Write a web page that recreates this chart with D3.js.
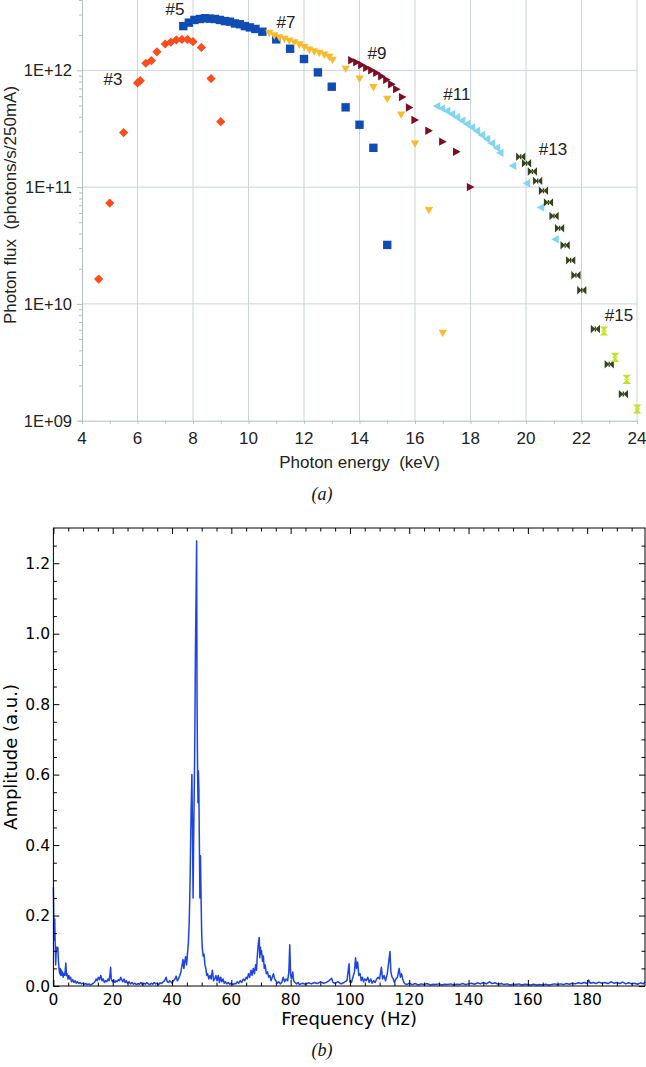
<!DOCTYPE html>
<html><head><meta charset="utf-8">
<script src="https://cdn.jsdelivr.net/npm/d3@7"></script>
<style>body{margin:0;background:#fff} svg{display:block}</style>
</head><body>
<svg id="c" width="646" height="1067"></svg>
<script>
// ---------- Data: panel (a) ----------
const s3Energy = [4.6, 5.0, 5.5, 6.0, 6.1, 6.3, 6.5, 6.7, 7.0, 7.2, 7.4, 7.6, 7.8, 8.0, 8.3, 8.65, 9.0];
const s3Flux = [1.63e10, 7.3e10, 2.93e11, 7.8e11, 8.15e11, 1.15e12, 1.21e12, 1.44e12, 1.68e12, 1.74e12, 1.82e12, 1.84e12, 1.84e12, 1.76e12, 1.57e12, 8.5e11, 3.63e11];
const s5Energy = [7.65, 7.85, 8.05, 8.25, 8.43, 8.61, 8.79, 8.97, 9.15, 9.33, 9.51, 9.69, 9.87, 10.05, 10.25, 10.5, 11.0, 11.5, 12.0, 12.5, 13.0, 13.5, 14.0, 14.5, 15.0];
const s5Flux = [2.39e12, 2.56e12, 2.70e12, 2.75e12, 2.79e12, 2.77e12, 2.75e12, 2.70e12, 2.64e12, 2.61e12, 2.52e12, 2.48e12, 2.39e12, 2.33e12, 2.26e12, 2.14e12, 1.84e12, 1.53e12, 1.25e12, 9.6e11, 7.24e11, 4.82e11, 3.42e11, 2.17e11, 3.2e10];
const s7Energy = [10.75, 10.93, 11.11, 11.29, 11.47, 11.65, 11.83, 12.01, 12.19, 12.37, 12.55, 12.73, 12.91, 13.03, 13.5, 14.0, 14.5, 15.0, 15.5, 16.0, 16.5, 17.0];
const s7Flux = [2.07e12, 1.97e12, 1.90e12, 1.84e12, 1.78e12, 1.72e12, 1.65e12, 1.57e12, 1.49e12, 1.44e12, 1.40e12, 1.35e12, 1.29e12, 1.22e12, 1.02e12, 8.4e11, 7.1e11, 5.65e11, 4.14e11, 2.34e11, 6.3e10, 5.6e9];
const s9Energy = [13.72, 13.9, 14.08, 14.26, 14.44, 14.62, 14.8, 14.98, 15.16, 15.34, 15.55, 15.8, 16.0, 16.5, 17.0, 17.5, 18.0];
const s9Flux = [1.22e12, 1.17e12, 1.11e12, 1.05e12, 1.0e12, 9.5e11, 8.9e11, 8.3e11, 7.6e11, 6.9e11, 5.9e11, 4.8e11, 3.75e11, 3.04e11, 2.45e11, 2.01e11, 1.0e11];
const s11Energy = [16.78, 16.96, 17.14, 17.32, 17.5, 17.68, 17.86, 18.04, 18.22, 18.4, 18.58, 18.76, 18.94, 19.06, 19.52, 20.02, 20.53, 21.05];
const s11Flux = [4.94e11, 4.72e11, 4.48e11, 4.23e11, 3.96e11, 3.71e11, 3.47e11, 3.25e11, 3.02e11, 2.79e11, 2.58e11, 2.37e11, 2.17e11, 1.97e11, 1.52e11, 1.08e11, 6.7e10, 3.57e10];
const s13Energy = [19.81, 20.02, 20.23, 20.42, 20.63, 20.81, 21.01, 21.21, 21.41, 21.61, 21.8, 22.01, 22.5, 23.0, 23.51];
const s13Flux = [1.82e11, 1.6e11, 1.36e11, 1.13e11, 9.3e10, 7.4e10, 5.66e10, 4.44e10, 3.18e10, 2.36e10, 1.76e10, 1.31e10, 6.1e9, 3.04e9, 1.69e9];
const s15Energy = [22.81, 23.21, 23.63, 24.01];
const s15Flux = [5.86e9, 3.49e9, 2.26e9, 1.26e9];
const harmonicLabels = ["#3", "#5", "#7", "#9", "#11", "#13", "#15"];
const labelEnergy = [5.12, 7.35, 11.35, 14.63, 17.51, 20.97, 23.35];
const labelFlux = [8.4e11, 3.35e12, 2.6e12, 1.4e12, 6.27e11, 2.12e11, 8.0e9];
const xTicksA = [4, 6, 8, 10, 12, 14, 16, 18, 20, 22, 24];
const yTicksA = [1e9, 1e10, 1e11, 1e12];
const yTickLabelsA = ["1E+09", "1E+10", "1E+11", "1E+12"];

// ---------- Data: panel (b) ----------
const spectrum = [
[0,0.28],[0.15,0.19],[0.3,0.13],[0.45,0.19],[0.6,0.12],[0.75,0.06],[0.9,0.09],[1.05,0.11],[1.3,0.10],[1.5,0.11],[1.7,0.07],[1.9,0.05],
[2.1,0.035],[2.3,0.05],[2.5,0.03],[2.7,0.045],[2.9,0.03],[3.1,0.04],[3.3,0.025],[3.5,0.035],[3.8,0.03],[4.0,0.045],[4.2,0.065],[4.4,0.03],
[4.6,0.035],[4.9,0.02],[5.2,0.03],[5.5,0.02],[5.8,0.025],[6.1,0.012],[6.5,0.018],[6.9,0.01],[7.3,0.015],[7.7,0.008],[8.1,0.012],[8.6,0.007],
[9.0,0.01],[9.5,0.006],[10.0,0.008],[10.5,0.005],[11.0,0.007],[11.5,0.004],[12.0,0.006],[12.5,0.003],[13.0,0.005],[13.5,0.008],[14.0,0.012],
[14.4,0.02],[14.8,0.015],[15.2,0.025],[15.6,0.018],[16.0,0.03],[16.4,0.015],[16.8,0.02],[17.2,0.01],[17.6,0.015],[18.0,0.012],[18.4,0.02],
[18.8,0.015],[19.1,0.035],[19.3,0.053],[19.5,0.02],[19.9,0.012],[20.3,0.018],[20.7,0.01],[21.1,0.015],[21.5,0.012],[21.9,0.018],[22.3,0.015],
[22.7,0.025],[23.0,0.018],[23.4,0.012],[23.8,0.02],[24.2,0.01],[24.6,0.015],[25.0,0.008],[25.5,0.012],[26.0,0.006],[26.5,0.01],[27.0,0.005],
[27.5,0.008],[28.0,0.004],[28.5,0.007],[29.0,0.005],[29.5,0.01],[30.0,0.004],[30.5,0.008],[31.0,0.005],[31.5,0.01],[32.0,0.006],[32.5,0.004],
[33.0,0.008],[33.5,0.005],[34.0,0.01],[34.5,0.006],[35.0,0.008],[35.5,0.004],[36.0,0.009],[36.5,0.007],[37.0,0.012],[37.5,0.015],[38.0,0.025],
[38.4,0.012],[38.8,0.01],[39.2,0.015],[39.6,0.012],[40.0,0.008],[40.5,0.015],[41.0,0.02],[41.4,0.028],[41.8,0.015],[42.2,0.02],[42.6,0.03],
[43.0,0.04],[43.4,0.06],[43.7,0.075],[44.0,0.05],[44.3,0.07],[44.6,0.083],[44.9,0.06],[45.2,0.09],[45.5,0.12],[45.8,0.18],[46.1,0.3],
[46.4,0.48],[46.7,0.6],[46.9,0.45],[47.1,0.25],[47.3,0.42],[47.5,0.55],[47.7,0.72],[47.9,0.95],[48.1,1.1],[48.3,1.263],[48.45,0.8],
[48.6,0.63],[48.75,0.52],[48.9,0.61],[49.05,0.56],[49.25,0.38],[49.4,0.25],[49.6,0.37],[49.8,0.25],[50.0,0.15],[50.2,0.11],[50.5,0.085],
[50.8,0.09],[51.1,0.06],[51.4,0.05],[51.7,0.03],[52.0,0.035],[52.4,0.02],[52.8,0.03],[53.2,0.02],[53.6,0.045],[54.0,0.015],[54.4,0.02],
[54.8,0.03],[55.2,0.015],[55.6,0.03],[56.0,0.01],[56.4,0.025],[56.8,0.012],[57.2,0.02],[57.6,0.008],[58.0,0.012],[58.5,0.006],[59.0,0.01],
[59.5,0.005],[60.0,0.008],[60.5,0.004],[61.0,0.007],[61.5,0.006],[62.0,0.012],[62.5,0.008],[63.0,0.015],[63.5,0.01],[64.0,0.02],[64.5,0.015],
[65.0,0.025],[65.4,0.02],[65.8,0.035],[66.2,0.025],[66.6,0.045],[67.0,0.03],[67.4,0.05],[67.8,0.035],[68.2,0.06],[68.5,0.045],[68.8,0.09],
[69.1,0.12],[69.4,0.138],[69.6,0.08],[69.8,0.11],[70.0,0.09],[70.2,0.1],[70.5,0.07],[70.8,0.085],[71.1,0.05],[71.4,0.06],[71.8,0.035],
[72.2,0.04],[72.6,0.025],[73.0,0.03],[73.4,0.015],[73.8,0.025],[74.2,0.035],[74.6,0.02],[75.0,0.015],[75.5,0.008],[76.0,0.012],[76.5,0.006],
[77.0,0.01],[77.5,0.025],[78.0,0.012],[78.5,0.02],[79.0,0.015],[79.4,0.04],[79.7,0.117],[80.0,0.03],[80.3,0.02],[80.7,0.04],[81.0,0.015],
[81.5,0.01],[82.0,0.006],[82.5,0.01],[83.0,0.004],[84.0,0.008],[85.0,0.005],[86.0,0.009],[87.0,0.006],[88.0,0.01],[89.0,0.007],[90.0,0.012],
[91.0,0.008],[92.0,0.01],[93.0,0.015],[93.8,0.022],[94.3,0.01],[95.0,0.008],[96.0,0.012],[97.0,0.006],[98.0,0.01],[99.0,0.015],[99.7,0.063],
[100.0,0.012],[100.5,0.01],[101.0,0.025],[101.5,0.04],[101.9,0.08],[102.2,0.05],[102.6,0.068],[103.0,0.03],[103.4,0.035],[103.8,0.015],
[104.2,0.025],[104.6,0.012],[105.0,0.02],[105.5,0.015],[106.0,0.025],[106.5,0.01],[107.0,0.02],[107.5,0.008],[108.0,0.015],[108.5,0.01],
[109.0,0.02],[109.5,0.025],[110.0,0.02],[110.6,0.053],[111.0,0.02],[111.5,0.03],[112.0,0.015],[112.6,0.035],[113.1,0.07],[113.5,0.098],
[113.8,0.04],[114.2,0.025],[114.6,0.02],[115.0,0.01],[115.5,0.02],[116.0,0.025],[116.6,0.05],[117.0,0.025],[117.4,0.035],[117.8,0.02],
[118.2,0.01],[118.6,0.006],[119.5,0.005],[120,0.008],[121,0.004],[122,0.007],[123,0.003],[124,0.006],[125,0.004],[126,0.007],[127,0.003],
[128,0.005],[129,0.004],[130,0.006],[131,0.003],[132,0.005],[133,0.004],[134,0.006],[135,0.003],[136,0.005],[137,0.004],[138,0.007],
[139,0.004],[140,0.006],[141,0.008],[142,0.005],[143,0.009],[144,0.006],[145,0.01],[146,0.006],[147,0.012],[148,0.007],[149,0.009],
[150,0.005],[151,0.007],[152,0.004],[153,0.006],[154,0.003],[155,0.005],[156,0.004],[157,0.006],[158,0.003],[159,0.005],[160,0.004],
[161,0.003],[162,0.005],[163,0.003],[164,0.004],[165,0.003],[166,0.005],[167,0.003],[168,0.004],[169,0.006],[170,0.004],[171,0.006],
[172,0.004],[173,0.007],[174,0.005],[175,0.008],[176,0.006],[177,0.009],[178,0.007],[179,0.01],[180,0.007],[180.5,0.017],[181,0.008],
[182,0.01],[183,0.007],[184,0.011],[185,0.008],[186,0.01],[187,0.007],[188,0.012],[189,0.008],[190,0.01],[191,0.007],[192,0.011],
[193,0.006],[194,0.009],[195,0.006],[196,0.008],[197,0.005],[198,0.009],[199,0.006],[199.5,0.012]
];
const xTicksB = [0, 20, 40, 60, 80, 100, 120, 140, 160, 180];
const yTicksB = [0.0, 0.2, 0.4, 0.6, 0.8, 1.0, 1.2];

// ---------- Panel (a) ----------
const svg = d3.select("#c");
const fontA = "'Liberation Sans', Arial, sans-serif";
const xA = d3.scaleLinear().domain([4, 24]).range([82, 637]);
const yA = d3.scaleLog().domain([1e9, 4e12]).range([420.7, 0]);
const gA = svg.append("g");
const gridCol = "#c9d3d9";

// grid
gA.selectAll("line.vg").data(xTicksA.slice(1)).enter().append("line")
  .attr("x1", d => xA(d)).attr("x2", d => xA(d)).attr("y1", 0).attr("y2", yA(1e9))
  .attr("stroke", gridCol).attr("stroke-width", 1);
gA.selectAll("line.hg").data(yTicksA.slice(1)).enter().append("line")
  .attr("x1", xA(4)).attr("x2", xA(24)).attr("y1", d => yA(d)).attr("y2", d => yA(d))
  .attr("stroke", gridCol).attr("stroke-width", 1);

// axes
const axisCol = "#b3bcc2";
const yAxisA = d3.axisLeft(yA).tickValues(yA.ticks()).tickFormat("").tickSize(3);
const gy = gA.append("g").attr("transform", `translate(${xA(4)},0)`).call(yAxisA);
gy.selectAll("path,line").attr("stroke", axisCol);
gy.selectAll(".tick line").attr("x2", d => yTicksA.includes(d) ? -5 : -3);
gA.append("g").selectAll("text").data(yTicksA).enter().append("text")
  .attr("x", 72).attr("y", d => yA(d)).attr("dy", "0.36em").attr("text-anchor", "end")
  .attr("font-family", fontA).attr("font-size", 16.5).attr("fill", "#222")
  .text((d, i) => yTickLabelsA[i]);

const minorX = d3.range(4, 24.01, 1);
const xAxisA = d3.axisBottom(xA).tickValues(minorX).tickFormat("").tickSize(3);
const gx = gA.append("g").attr("transform", `translate(0,${yA(1e9)})`).call(xAxisA);
gx.selectAll("path,line").attr("stroke", axisCol);
gA.append("g").selectAll("text").data(xTicksA).enter().append("text")
  .attr("x", d => xA(d)).attr("y", 444).attr("text-anchor", "middle")
  .attr("font-family", fontA).attr("font-size", 17).attr("fill", "#222")
  .text(d => d);

gA.append("text").attr("x", (xA(4) + xA(24)) / 2).attr("y", 468).attr("text-anchor", "middle")
  .attr("font-family", fontA).attr("font-size", 17).attr("fill", "#222")
  .style("white-space", "pre")
  .text("Photon energy  (keV)");
gA.append("text").attr("transform", "translate(16,205) rotate(-90)").attr("text-anchor", "middle")
  .attr("font-family", fontA).attr("font-size", 17).attr("fill", "#222")
  .style("white-space", "pre")
  .text("Photon flux  (photons/s/250mA)");

// markers
const shapes = {
  diamond: "M0,-4.6L4.6,0L0,4.6L-4.6,0Z",
  square: "M-4.2,-4.2H4.2V4.2H-4.2Z",
  down: "M-4.2,-3.6L4.2,-3.6L0,3.8Z",
  right: "M-3.6,-4.2L4,0L-3.6,4.2Z",
  left: "M3.6,-4.2L-4,0L3.6,4.2Z",
  bowtie: "M-4.6,-4.2L0,0L-4.6,4.2Z M4.6,-4.2L0,0L4.6,4.2Z M-0.7,-2.5H0.7V2.5H-0.7Z",
  hourglass: "M-4.2,-4.6L4.2,-4.6L0,0Z M-4.2,4.6L4.2,4.6L0,0Z M-2.5,-0.7H2.5V0.7H-2.5Z"
};
const seriesList = [
  {e: s3Energy, f: s3Flux, shape: "diamond", color: "#fb4d1d"},
  {e: s5Energy, f: s5Flux, shape: "square", color: "#0f4db3"},
  {e: s7Energy, f: s7Flux, shape: "down", color: "#fbbb2c"},
  {e: s9Energy, f: s9Flux, shape: "right", color: "#7c0f26"},
  {e: s11Energy, f: s11Flux, shape: "left", color: "#80d5f3"},
  {e: s13Energy, f: s13Flux, shape: "bowtie", color: "#34421b"},
  {e: s15Energy, f: s15Flux, shape: "hourglass", color: "#c4e02e"}
];
seriesList.forEach(s => {
  gA.append("g").selectAll("path").data(s.e.map((e, i) => [e, s.f[i]])).enter().append("path")
    .attr("d", shapes[s.shape]).attr("fill", s.color)
    .attr("transform", d => `translate(${xA(d[0])},${yA(d[1])})`);
});
gA.append("g").selectAll("text").data(harmonicLabels).enter().append("text")
  .attr("x", (d, i) => xA(labelEnergy[i])).attr("y", (d, i) => yA(labelFlux[i])).attr("dy", "0.36em")
  .attr("text-anchor", "middle").attr("font-family", fontA).attr("font-size", 17).attr("fill", "#222")
  .text(d => d);

svg.append("text").attr("x", 322).attr("y", 500).attr("text-anchor", "middle")
  .attr("font-family", "'Liberation Serif', 'Times New Roman', serif").attr("font-style", "italic")
  .attr("font-size", 18).attr("fill", "#111").text("(a)");

// ---------- Panel (b) ----------
const fontB = "'DejaVu Sans', sans-serif";
const L = 53.4, R = 645, T = 528, B = 986;
const xB = d3.scaleLinear().domain([0, 199.5]).range([L, R]);
const yB = d3.scaleLinear().domain([0, 1.3]).range([B, T]);
const gB = svg.append("g");

const line = d3.line().x(d => xB(d[0])).y(d => yB(d[1]));
gB.append("path").datum(spectrum).attr("d", line).attr("fill", "none")
  .attr("stroke", "#1d43e2").attr("stroke-width", 1.5).attr("stroke-linejoin", "round");

gB.append("rect").attr("x", L).attr("y", T).attr("width", R - L).attr("height", B - T)
  .attr("fill", "none").attr("stroke", "#000").attr("stroke-width", 1);

const minorXB = d3.range(0, 199.5, 5);
const minorYB = d3.range(0, 1.3, 0.05);
const isMajX = d => Math.abs(d / 20 - Math.round(d / 20)) < 1e-6;
const isMajY = d => Math.abs(d / 0.2 - Math.round(d / 0.2)) < 1e-6;
const tickLen = maj => maj ? 6 : 3.5;
const axB = gB.append("g").attr("transform", `translate(0,${B})`).call(d3.axisBottom(xB).tickValues(minorXB).tickSizeInner(0).tickSizeOuter(0).tickFormat(""));
axB.select(".domain").remove();
axB.selectAll(".tick line").attr("y2", d => -tickLen(isMajX(d))).attr("stroke", "#000");
const axT = gB.append("g").attr("transform", `translate(0,${T})`).call(d3.axisTop(xB).tickValues(minorXB).tickSizeInner(0).tickSizeOuter(0).tickFormat(""));
axT.select(".domain").remove();
axT.selectAll(".tick line").attr("y2", d => tickLen(isMajX(d))).attr("stroke", "#000");
const axL = gB.append("g").attr("transform", `translate(${L},0)`).call(d3.axisLeft(yB).tickValues(minorYB).tickSizeInner(0).tickSizeOuter(0).tickFormat(""));
axL.select(".domain").remove();
axL.selectAll(".tick line").attr("x2", d => tickLen(isMajY(d))).attr("stroke", "#000");
const axR = gB.append("g").attr("transform", `translate(${R},0)`).call(d3.axisRight(yB).tickValues(minorYB).tickSizeInner(0).tickSizeOuter(0).tickFormat(""));
axR.select(".domain").remove();
axR.selectAll(".tick line").attr("x2", d => -tickLen(isMajY(d))).attr("stroke", "#000");

gB.append("g").selectAll("text").data(xTicksB).enter().append("text")
  .attr("x", d => xB(d)).attr("y", 1005).attr("text-anchor", "middle")
  .attr("font-family", fontB).attr("font-size", 15.5).attr("fill", "#000").text(d => d);
gB.append("g").selectAll("text").data(yTicksB).enter().append("text")
  .attr("x", 50).attr("y", d => yB(d)).attr("dy", "0.36em").attr("text-anchor", "end")
  .attr("font-family", fontB).attr("font-size", 15.5).attr("fill", "#000").text(d => d.toFixed(1));

gB.append("text").attr("x", (L + R) / 2).attr("y", 1025).attr("text-anchor", "middle")
  .attr("font-family", fontB).attr("font-size", 18).attr("fill", "#000").text("Frequency (Hz)");
gB.append("text").attr("transform", "translate(17,757) rotate(-90)").attr("text-anchor", "middle")
  .attr("font-family", fontB).attr("font-size", 18).attr("fill", "#000").text("Amplitude (a.u.)");

svg.append("text").attr("x", 322).attr("y", 1056).attr("text-anchor", "middle")
  .attr("font-family", "'Liberation Serif', 'Times New Roman', serif").attr("font-style", "italic")
  .attr("font-size", 18).attr("fill", "#111").text("(b)");
</script>
</body></html>
